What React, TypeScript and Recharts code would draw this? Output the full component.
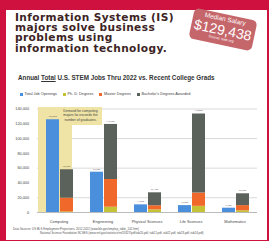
import React from 'react';
import { BarChart, Bar, XAxis, YAxis, CartesianGrid, ReferenceArea, LabelList } from 'recharts';

const categories = ['Computing', 'Engineering', 'Physical Sciences', 'Life Sciences', 'Mathematics'];
const totalJobOpenings = [126000, 55200, 11000, 10000, 6500];
const phdDegrees = [1500, 7800, 4300, 9000, 3000];
const masterDegrees = [18500, 37500, 5500, 18000, 7000];
const bachelorDegrees = [38500, 74500, 17500, 107000, 16000];
const yTicks = [0, 20000, 40000, 60000, 80000, 100000, 120000, 140000];

const seriesNames = ['Total Job Openings', 'Ph. D. Degrees', 'Master Degrees', "Bachelor's Degrees Awarded"];
const seriesColors = ['#4a8fdc', '#c6c236', '#f0692b', '#5b625c'];

const titleLines = ['Information Systems (IS)', 'majors solve business', 'problems using', 'information technology.'];
const calloutLines = ['Demand for computing', 'majors far exceeds the', 'number of graduates.'];
const footerLines = [
  'Data Sources: US BLS Employment Projections, 2012-2022 (www.bls.gov/emp/ep_table_102.htm)',
  'National Science Foundation NCSES (www.nsf.gov/statistics/nsf13327/pdf/tab20.pdf, tab21.pdf, tab22.pdf, tab23.pdf, tab24.pdf)',
];

const data = categories.map((c, i) => ({
  name: c,
  total: totalJobOpenings[i],
  phd: phdDegrees[i],
  master: masterDegrees[i],
  bachelor: bachelorDegrees[i],
  degTotal: phdDegrees[i] + masterDegrees[i] + bachelorDegrees[i],
}));

const fmt = (v: number) => v.toLocaleString('en-US');

const ShadeShape = (props: any) => {
  const { x, y, width, height } = props;
  return (
    <g>
      <rect x={x + 1} y={y - 2} width={width - 10} height={height + 2} fill="#efe3a6" />
      <rect x={x + 22} y={y - 2} width={43} height={18} fill="#efe3a6" />
      {calloutLines.map((l, i) => (
        <text key={i} x={x + 43.5} y={y + 3 + i * 4.3} fontSize={3.4} textAnchor="middle" fill="#444" fontFamily="Liberation Sans, Arial, sans-serif">
          {l}
        </text>
      ))}
    </g>
  );
};

export default function App() {
  return (
    <div style={{ position: 'absolute', left: 0, top: 0, width: 269, height: 241, background: '#cf1140', overflow: 'hidden' }}>
      <div style={{ position: 'absolute', left: 6, top: 10, right: 2, bottom: 1, background: '#ffffff' }} />
      <div style={{ position: 'absolute', left: 15, top: 11.5, fontFamily: 'DejaVu Sans, sans-serif', fontWeight: 'bold', fontSize: 10.6, lineHeight: '10.4px', letterSpacing: 0.4, color: '#3d2424', whiteSpace: 'nowrap' }}>
        {titleLines.map((l, i) => (
          <div key={i} style={{ height: 10.4 }}>{l}</div>
        ))}
      </div>
      <div style={{ position: 'absolute', left: 191, top: 14, width: 64, height: 31, background: '#c5666b', borderRadius: 5, transform: 'rotate(12deg)', color: '#fff', fontFamily: 'Liberation Sans, Arial, sans-serif', textAlign: 'center' }}>
        <div style={{ fontSize: 6.5, lineHeight: '8px', marginTop: 1 }}>Median Salary</div>
        <div style={{ fontSize: 14, lineHeight: '14px' }}>$129,438</div>
        <div style={{ fontSize: 3.5, lineHeight: '5px' }}>Source: ieee.org</div>
      </div>
      <div style={{ position: 'absolute', left: 18, top: 74, fontFamily: 'Liberation Sans, Arial, sans-serif', fontWeight: 'bold', fontSize: 6.3, color: '#333', whiteSpace: 'nowrap' }}>
        Annual <span style={{ textDecoration: 'underline' }}>Total</span> U.S. STEM Jobs Thru 2022 vs. Recent College Grads
      </div>
      <div style={{ position: 'absolute', left: 20, top: 92, display: 'flex', gap: 6, fontFamily: 'Liberation Sans, Arial, sans-serif', fontSize: 3.8, color: '#444', whiteSpace: 'nowrap', alignItems: 'center' }}>
        {seriesNames.map((n, i) => (
          <div key={i} style={{ display: 'flex', alignItems: 'center', gap: 1.5 }}>
            <div style={{ width: 3, height: 3, background: seriesColors[i] }} />
            <span>{n}</span>
          </div>
        ))}
      </div>
      <div style={{ position: 'absolute', left: 0, top: 0 }}>
        <BarChart width={269} height={241} data={data} margin={{ top: 109, right: 12, bottom: 20.5, left: 7 }} barGap={1} barSize={13}>
          <CartesianGrid vertical={false} stroke="#cfcfcf" strokeWidth={0.8} />
          <ReferenceArea x1="Computing" x2="Computing" y1={0} y2={140000} shape={ShadeShape} ifOverflow="visible" />
          <XAxis dataKey="name" height={8} tickLine={false} axisLine={{ stroke: '#bbb' }} tick={{ fontSize: 3.8, fill: '#444', fontFamily: 'Liberation Sans, Arial, sans-serif' }} interval={0} />
          <YAxis width={30} domain={[0, 140000]} ticks={yTicks} tickFormatter={fmt} tickLine={false} axisLine={false} tick={{ fontSize: 3.8, fill: '#444', fontFamily: 'Liberation Sans, Arial, sans-serif' }} />
          <Bar dataKey="total" stackId="jobs" fill={seriesColors[0]} isAnimationActive={false}>
            <LabelList dataKey="total" position="top" formatter={(v: any) => fmt(v)} fontSize={2.6} fill="#555" offset={2} />
          </Bar>
          <Bar dataKey="phd" stackId="deg" fill={seriesColors[1]} isAnimationActive={false} />
          <Bar dataKey="master" stackId="deg" fill={seriesColors[2]} isAnimationActive={false} />
          <Bar dataKey="bachelor" stackId="deg" fill={seriesColors[3]} isAnimationActive={false}>
            <LabelList dataKey="degTotal" position="top" formatter={(v: any) => fmt(v)} fontSize={2.6} fill="#555" offset={2} />
          </Bar>
        </BarChart>
      </div>
      <div style={{ position: 'absolute', left: 13, top: 227, fontFamily: 'Liberation Sans, Arial, sans-serif', fontSize: 2.9, lineHeight: '4px', color: '#555', whiteSpace: 'nowrap' }}>
        <div>{footerLines[0]}</div>
        <div style={{ marginLeft: 27 }}>{footerLines[1]}</div>
      </div>
    </div>
  );
}
